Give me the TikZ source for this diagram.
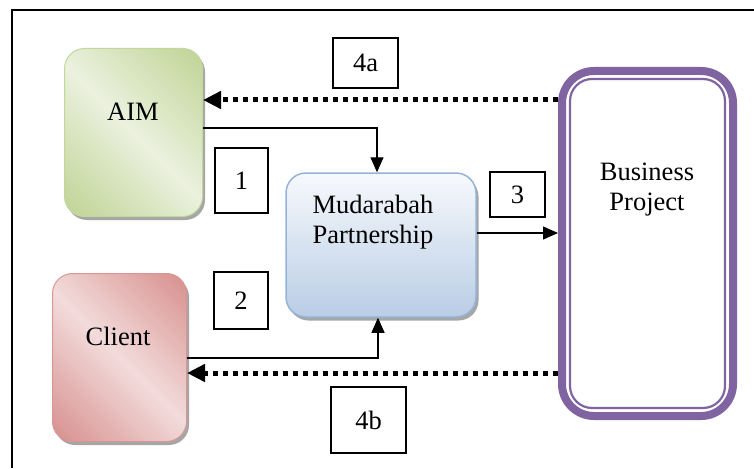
\documentclass[tikz,border=0pt]{standalone}
\usepackage{fontspec}
\setmainfont{Liberation Serif}
\usetikzlibrary{arrows.meta,shadows}
\definecolor{gd}{HTML}{C3D69B}
\definecolor{gl}{HTML}{EBF1DE}
\definecolor{rd}{HTML}{D99694}
\definecolor{rl}{HTML}{F2DCDB}
\definecolor{bt}{HTML}{F7F9FC}
\definecolor{bb}{HTML}{B9CDE5}
\definecolor{bbord}{HTML}{95B3D7}
\definecolor{pur}{HTML}{8064A2}
\definecolor{shd}{HTML}{A6A6A6}
\pgfdeclarehorizontalshading{greenband}{100bp}{color(0bp)=(gd); color(18bp)=(gd); color(50bp)=(gl); color(82bp)=(gd); color(100bp)=(gd)}
\pgfdeclarehorizontalshading{redband}{100bp}{color(0bp)=(rd); color(18bp)=(rd); color(50bp)=(rl); color(82bp)=(rd); color(100bp)=(rd)}
\begin{document}
\begin{tikzpicture}[x=1pt,y=-1pt,
  lbl/.style={font=\fontsize{26.5}{30}\selectfont, inner sep=0pt, align=center},
  box/.style={rounded corners=20pt, inner sep=0pt, line width=1pt,
    drop shadow={shadow xshift=2.5pt, shadow yshift=-3.5pt, fill=shd, opacity=1}},
  numbox/.style={draw=black, fill=white, line width=1.3pt, inner sep=0pt,
    font=\fontsize{26.5}{30}\selectfont},
  thinarrow/.style={line width=1.3pt, -{Triangle[length=15pt,width=13pt]}},
  dotarrow/.style={line width=5pt, dash pattern=on 5pt off 5pt, -{Triangle[length=18pt,width=17pt]}}]
\useasboundingbox (0,0) rectangle (754,468);
\fill[white] (0,0) rectangle (754,468);
% frame
\draw[line width=1.5pt] (12,468) -- (12,10) -- (754,10);
% boxes
\node[box, draw=gd, shading=greenband, shading angle=45,
  minimum width=138pt, minimum height=168pt] (aim) at (133.5,132.5) {};
\node[lbl] (aimt) at (133,112) {AIM};
\node[box, draw=rd, shading=redband, shading angle=45,
  minimum width=134pt, minimum height=168pt] (client) at (119.5,357.5) {};
\node[lbl] (clientt) at (118,336) {Client};
\node[box, draw=bbord, line width=1.5pt, top color=bt, bottom color=bb,
  minimum width=190pt, minimum height=144pt] (mud) at (381,245) {};
\node[lbl] (mudt) at (373,222) {Mudarabah\\Partnership};
% business project
\node[draw=pur, line width=8pt, rounded corners=32pt, inner sep=0pt, fill=white,
  minimum width=171pt, minimum height=345pt] (bp) at (647.5,243.5) {};
\node[draw=pur, line width=2.2pt, rounded corners=22pt, inner sep=0pt,
  minimum width=155pt, minimum height=329pt] (bpin) at (647.5,243.5) {};
\node[lbl] (bpt) at (647,190) {Business\\Project};
% number boxes
\node[numbox, minimum width=65pt, minimum height=50pt] (n4a) at (365.5,63) {4a};
\node[numbox, minimum width=53pt, minimum height=65pt] (n1) at (241.5,180.5) {1};
\node[numbox, minimum width=54pt, minimum height=57pt] (n2) at (241,300.5) {2};
\node[numbox, minimum width=55pt, minimum height=45pt] (n3) at (517.5,194.5) {3};
\node[numbox, minimum width=75pt, minimum height=66pt] (n4b) at (368.5,420) {4b};
% helper coordinates
\coordinate (y4a) at (0,100);
\coordinate (y4b) at (0,373);
\coordinate (y1) at (0,128);
\coordinate (x1) at (377,0);
\coordinate (y2) at (0,358);
\coordinate (x2) at (378,0);
\coordinate (y3) at (0,233);
% connectors
\draw[dotarrow] (bp.west |- y4a) -- (aim.east |- y4a);
\draw[dotarrow] (bp.west |- y4b) -- (client.east |- y4b);
\draw[thinarrow] (aim.east |- y1) -| (mud.north -| x1);
\draw[thinarrow] (client.east |- y2) -| (mud.south -| x2);
\draw[thinarrow] (mud.east |- y3) -- (bp.west |- y3);
\end{tikzpicture}
\end{document}
